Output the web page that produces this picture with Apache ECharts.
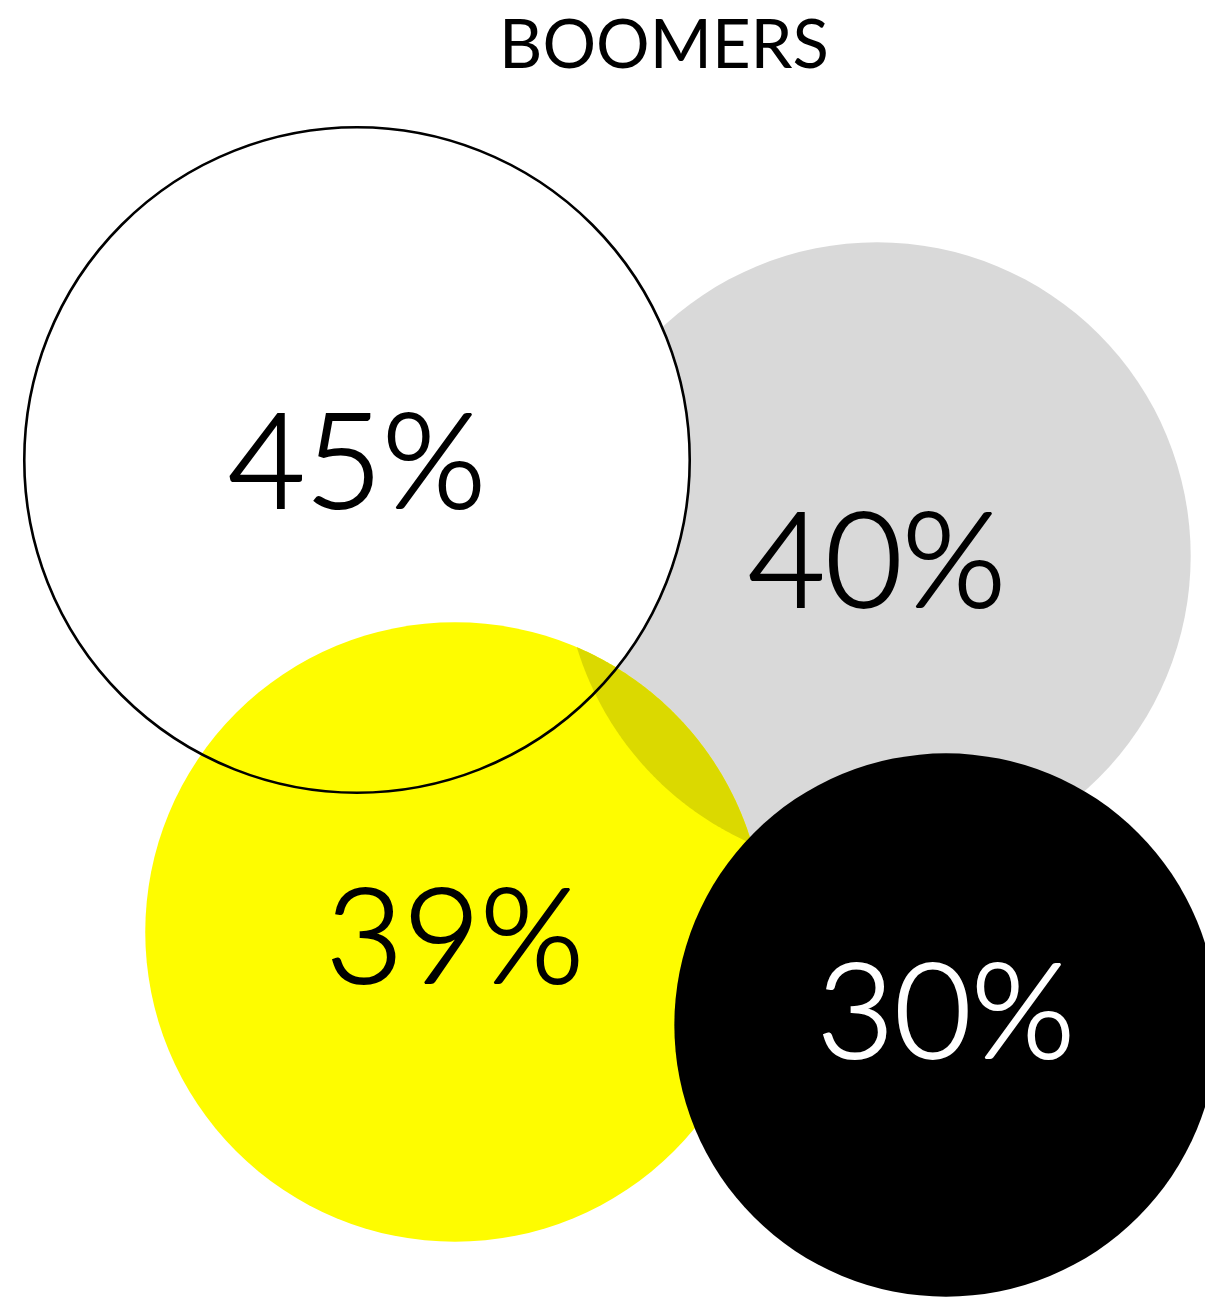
<!DOCTYPE html>
<html><head><meta charset="utf-8">
<script src="https://cdn.jsdelivr.net/npm/echarts@6/dist/echarts.min.js"></script>
<style>html,body{margin:0;padding:0;background:#fff}#c{width:1205px;height:1300px}</style>
</head><body><div id="c"></div>
<script>
// ---- data ----
const chartTitle = 'BOOMERS';
const labels = ['45%', '40%', '39%', '30%'];
const values = [45, 40, 39, 30];
const posX = [357, 877, 455, 946];
const posY = [460, 556, 932, 1025];
const overlapPairs = [[1, 2]]; // gray ∩ yellow

// ---- styling (not data) ----
const K = 49.6; // radius = K * sqrt(value), in axis units
const FONT = 'Lato, "Noto Sans", sans-serif';
const styles = [
  { fill: '#ffffff', z2: 2, text: '#000000', outline: true, dy: 5 },
  { fill: '#d9d9d9', z2: 1, text: '#000000', dy: 8 },
  { fill: '#fefc00', z2: 3, text: '#000000', dy: 8 },
  { fill: '#000000', z2: 6, text: '#ffffff', dy: -10 }
];
const lensColor = '#dbd900';

const chart = echarts.init(document.getElementById('c'), null, { renderer: 'canvas' });

const bubbleData = values.map((v, i) => [posX[i], posY[i], v, labels[i]]);

function radiusPx(api, v) {
  return api.size([K * Math.sqrt(v), 0])[0];
}

chart.setOption({
  backgroundColor: '#ffffff',
  animation: false,
  grid: { left: 0, right: 0, top: 0, bottom: 0 },
  xAxis: { type: 'value', min: 0, max: 1205, show: false },
  yAxis: { type: 'value', min: 0, max: 1300, inverse: true, show: false },
  graphic: [{
    type: 'text', x: 664, y: 46, z: 100,
    style: { text: chartTitle, align: 'center', verticalAlign: 'middle',
      fill: '#000', font: '400 67px ' + FONT }
  }],
  series: [
    {
      type: 'custom',
      coordinateSystem: 'cartesian2d',
      clip: false,
      data: bubbleData,
      encode: { x: 0, y: 1 },
      renderItem: function (params, api) {
        const i = params.dataIndex;
        const c = api.coord([api.value(0), api.value(1)]);
        const r = radiusPx(api, api.value(2));
        const s = styles[i];
        const children = [{
          type: 'circle', z2: s.z2,
          shape: { cx: c[0], cy: c[1], r: r },
          style: { fill: s.fill }
        }];
        if (s.outline) {
          children.push({
            type: 'circle', z2: 5,
            shape: { cx: c[0], cy: c[1], r: r },
            style: { fill: 'none', stroke: '#000', lineWidth: 2.6 }
          });
        }
        children.push({
          type: 'text', z2: 10,
          style: {
            text: labels[i], x: c[0], y: c[1] + s.dy,
            align: 'center', verticalAlign: 'middle',
            fill: s.text, stroke: s.text, lineWidth: 2.2,
            font: '300 133px ' + FONT
          }
        });
        return { type: 'group', children: children };
      }
    },
    {
      type: 'custom',
      coordinateSystem: 'cartesian2d',
      clip: false,
      data: overlapPairs,
      encode: { x: 0, y: 1 },
      renderItem: function (params, api) {
        const pair = overlapPairs[params.dataIndex];
        const A = api.coord([posX[pair[0]], posY[pair[0]]]);
        const B = api.coord([posX[pair[1]], posY[pair[1]]]);
        const ra = radiusPx(api, values[pair[0]]);
        const rb = radiusPx(api, values[pair[1]]);
        const dx = B[0] - A[0], dy = B[1] - A[1];
        const d = Math.hypot(dx, dy);
        if (d >= ra + rb) return null;
        const a = (ra * ra - rb * rb + d * d) / (2 * d);
        const alpha = Math.acos(a / ra), beta = Math.acos((d - a) / rb);
        const t0 = Math.atan2(dy, dx), p0 = t0 + Math.PI;
        const pts = [];
        const N = 120;
        for (let k = 0; k <= N; k++) {
          const t = t0 - alpha + 2 * alpha * k / N;
          pts.push([A[0] + ra * Math.cos(t), A[1] + ra * Math.sin(t)]);
        }
        for (let k = 0; k <= N; k++) {
          const t = p0 - beta + 2 * beta * k / N;
          pts.push([B[0] + rb * Math.cos(t), B[1] + rb * Math.sin(t)]);
        }
        return { type: 'polygon', z2: 4, shape: { points: pts }, style: { fill: lensColor } };
      }
    }
  ]
});
</script>
</body></html>
